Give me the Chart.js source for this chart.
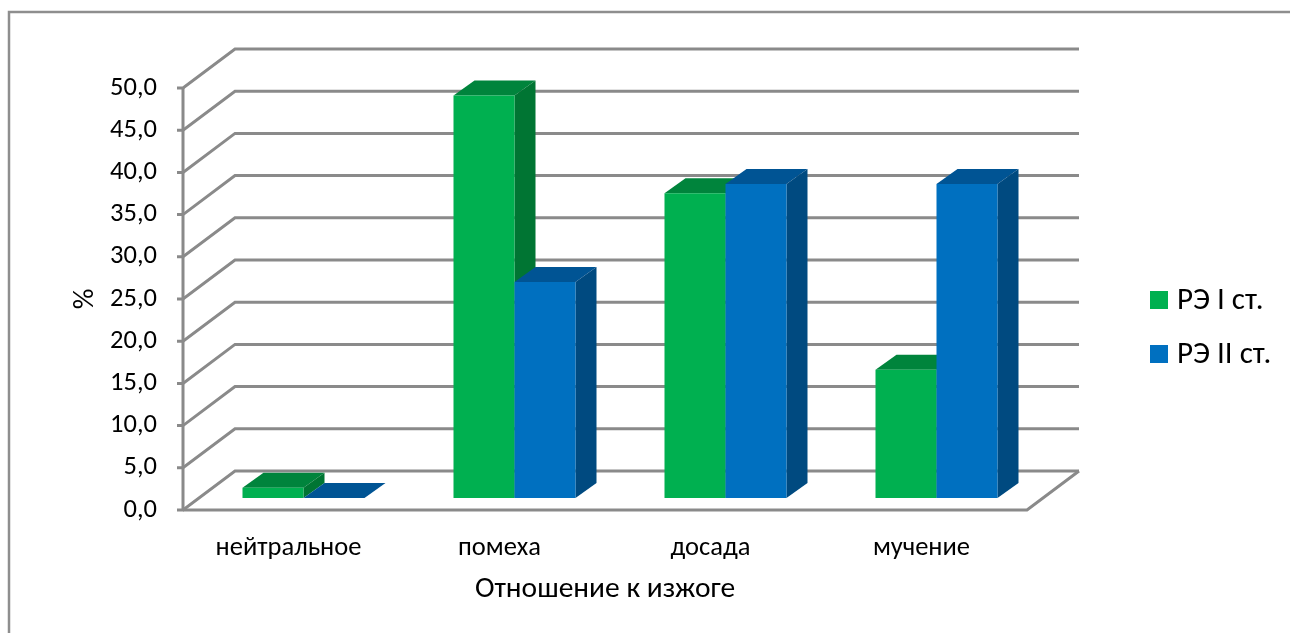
<!DOCTYPE html>
<html lang="ru">
<head>
<meta charset="utf-8">
<title>Отношение к изжоге</title>
<script src="https://cdn.jsdelivr.net/npm/chart.js@4"></script>
<style>
    html, body { margin: 0; padding: 0; background: #fff; overflow: hidden; }
    canvas { display: block; }
</style>
</head>
<body>
<canvas id="heartburnChart" width="1290" height="633"></canvas>
<script>
const categories = ["нейтральное", "помеха", "досада", "мучение"];
const stage1Values = [1.2, 47.7, 36.1, 15.2];
const stage2Values = [0, 25.6, 37.2, 37.2];
const stage1Label = "РЭ I ст.";
const stage2Label = "РЭ II ст.";
const xTitle = "Отношение к изжоге";
const yTitle = "%";

const FONT = "Carlito, Lato, 'Open Sans', sans-serif";
const GRID = "#8a8a8a";

// offset of the back wall from the front of the plot, and of the bars inside the box
const WALL = {dx: 52, dy: -39};
const BAR_SHIFT = {dx: 15, dy: -12};
const BAR_DEPTH = {dx: 21, dy: -15};

const faces = [
    {front: "#00b050", top: "#00843c", side: "#007533"},
    {front: "#0070c0", top: "#005494", side: "#004a80"},
];

function poly(ctx, color, pts) {
    ctx.fillStyle = color;
    ctx.beginPath();
    pts.forEach((p, i) => i ? ctx.lineTo(p[0], p[1]) : ctx.moveTo(p[0], p[1]));
    ctx.closePath();
    ctx.fill();
}

function line(ctx, pts) {
    ctx.beginPath();
    pts.forEach((p, i) => i ? ctx.lineTo(p[0], p[1]) : ctx.moveTo(p[0], p[1]));
    ctx.stroke();
}

// walls, floor, legend and the depth faces of the bars
const box3d = {
    id: "box3d",
    beforeDraw(chart) {
        const ctx = chart.ctx;
        ctx.save();
        ctx.strokeStyle = "#8e8e8e";
        ctx.lineWidth = 2.5;
        line(ctx, [[9, 633], [9, 12], [1290, 12]]);

        ctx.font = "31px " + FONT;
        ctx.textBaseline = "middle";
        chart.data.datasets.forEach((ds, d) => {
            const y = 300 + d * 54;
            ctx.fillStyle = ds.backgroundColor;
            ctx.fillRect(1150, y - 9, 18, 18);
            ctx.fillStyle = "#000";
            ctx.fillText(ds.label, 1177, y + 1);
        });
        ctx.restore();
    },
    beforeDatasetsDraw(chart) {
        const ctx = chart.ctx;
        const {left, right} = chart.chartArea;
        const y = chart.scales.y;
        const base = y.getPixelForValue(0);

        ctx.save();
        ctx.strokeStyle = GRID;
        ctx.lineWidth = 3;
        y.ticks.forEach(tick => {
            const py = y.getPixelForValue(tick.value);
            line(ctx, [
                [left - 6, py],
                [left, py],
                [left + WALL.dx, py + WALL.dy],
                [right + WALL.dx, py + WALL.dy],
            ]);
        });
        line(ctx, [[left, y.getPixelForValue(50)], [left, base]]);
        line(ctx, [
            [left, base],
            [right, base],
            [right + WALL.dx, base + WALL.dy],
        ]);
        ctx.restore();

        chart.data.datasets.forEach((ds, d) => {
            chart.getDatasetMeta(d).data.forEach(bar => {
                const x0 = bar.x - bar.width / 2 + BAR_SHIFT.dx;
                const x1 = bar.x + bar.width / 2 + BAR_SHIFT.dx;
                const yTop = bar.y + BAR_SHIFT.dy;
                const yBase = bar.base + BAR_SHIFT.dy;
                poly(ctx, faces[d].top, [
                    [x0, yTop],
                    [x1, yTop],
                    [x1 + BAR_DEPTH.dx, yTop + BAR_DEPTH.dy],
                    [x0 + BAR_DEPTH.dx, yTop + BAR_DEPTH.dy],
                ]);
                poly(ctx, faces[d].side, [
                    [x1, yTop],
                    [x1 + BAR_DEPTH.dx, yTop + BAR_DEPTH.dy],
                    [x1 + BAR_DEPTH.dx, yBase + BAR_DEPTH.dy],
                    [x1, yBase],
                ]);
                ctx.save();
                ctx.translate(BAR_SHIFT.dx, BAR_SHIFT.dy);
                bar.draw(ctx);
                ctx.restore();
            });
        });
        return false;
    },
};

new Chart(document.getElementById("heartburnChart"), {
    type: "bar",
    data: {
        labels: categories,
        datasets: [
            {label: stage1Label, data: stage1Values, backgroundColor: faces[0].front},
            {label: stage2Label, data: stage2Values, backgroundColor: faces[1].front},
        ],
    },
    options: {
        responsive: false,
        animation: false,
        layout: {padding: {top: 88, right: 263, left: 0, bottom: 0}},
        datasets: {bar: {barPercentage: 1, categoryPercentage: 122 / 211}},
        plugins: {
            tooltip: {enabled: false},
            legend: {display: false},
        },
        scales: {
            x: {
                grid: {display: false},
                border: {display: false},
                afterFit(scale) { scale.height = 123; },
                ticks: {padding: 14, color: "#000", font: {family: FONT, size: 26.5}},
                title: {display: true, text: xTitle, color: "#000", font: {family: FONT, size: 29.5}, padding: {bottom: 26}},
            },
            y: {
                min: 0,
                max: 50,
                grid: {display: false},
                border: {display: false},
                afterFit(scale) { scale.width = 183; },
                ticks: {
                    stepSize: 5,
                    padding: 18,
                    color: "#000",
                    font: {family: FONT, size: 26.5},
                    callback: v => v.toFixed(1).replace(".", ","),
                },
                title: {display: true, text: yTitle, color: "#000", font: {family: FONT, size: 29}, padding: {top: 68}},
            },
        },
    },
    plugins: [box3d],
});
</script>
</body>
</html>
